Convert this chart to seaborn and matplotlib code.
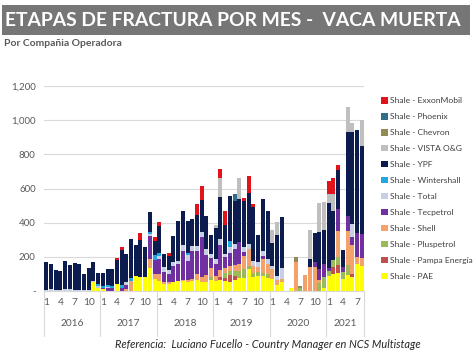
import matplotlib
matplotlib.use('Agg')
import matplotlib.pyplot as plt
import matplotlib.transforms as mtransforms
from matplotlib.patches import Patch, Rectangle
import pandas as pd
import seaborn as sns

# Monthly frac stages by operator, Jan 2016 - Aug 2021
years = [2016, 2017, 2018, 2019, 2020, 2021]
months_in_year = [12, 12, 12, 12, 12, 8]
month_ticks = ['1', '4', '7', '10']

companies = ['Shale - ExxonMobil', 'Shale - Phoenix', 'Shale - Chevron', 'Shale - VISTA O&G',
             'Shale - YPF', 'Shale - Wintershall', 'Shale - Total', 'Shale - Tecpetrol',
             'Shale - Shell', 'Shale - Pluspetrol', 'Shale - Pampa Energía', 'Shale - PAE']
colors = ['#e3131b', '#2f6f8c', '#948a54', '#bfbfbf', '#0c1c4f', '#22a7e0',
          '#c6cfe3', '#7030a0', '#f2a26a', '#9bbb59', '#c0504d', '#ffff00']

exxon = [0, 0, 0, 0, 0, 0, 0, 0, 0, 0, 0, 0,
         0, 0, 0, 10, 15, 0, 0, 0, 40, 0, 0, 20,
         20, 0, 20, 0, 0, 0, 0, 0, 70, 80, 0, 0,
         0, 50, 80, 0, 0, 0, 20, 100, 15, 0, 0, 0,
         0, 0, 0, 0, 0, 0, 0, 0, 0, 0, 0, 0,
         80, 90, 25, 0, 0, 0, 0, 0]
phoenix = [0] * 12 + [0] * 12 + [0] * 12 + \
          [0, 0, 0, 0, 40, 0, 0, 0, 0, 0, 0, 0] + [0] * 12 + [0] * 8
chevron = [0] * 12 + [0] * 12 + [0] * 12 + [0] * 12 + \
          [0, 0, 0, 0, 0, 30, 15, 0, 0, 0, 0, 0] + [0] * 8
vista = [0] * 12 + [0] * 12 + [0] * 12 + \
        [20, 110, 0, 0, 0, 120, 0, 0, 0, 0, 0, 0,
         80, 80, 0, 0, 0, 0, 0, 0, 165, 0, 170, 160,
         50, 100, 0, 0, 149, 55, 0, 153]
ypf = [161, 149, 116, 110, 163, 143, 155, 151, 92, 129, 109, 68,
       74, 92, 97, 143, 205, 168, 229, 180, 219, 175, 120, 84,
       162, 76, 80, 150, 230, 200, 185, 160, 180, 190, 190, 110,
       180, 250, 170, 260, 250, 250, 270, 300, 320, 160, 300, 280,
       130, 240, 300, 0, 0, 0, 0, 0, 50, 170, 220, 200,
       380, 290, 230, 100, 491, 536, 606, 514]
wintershall = [0, 0, 0, 0, 0, 0, 0, 0, 0, 0, 0, 10,
               10, 10, 10, 0, 15, 0, 15, 0, 0, 0, 8, 30,
               15, 0, 0, 0, 0, 0, 15, 0, 0, 0, 0, 0,
               0, 0, 0, 40, 0, 0, 0, 0, 0, 0, 0, 0] + [0] * 12 + [0] * 8
total = [8, 10, 8, 8, 10, 10, 8, 8, 6, 8, 10, 10,
         0, 5, 5, 0, 0, 15, 0, 0, 0, 0, 15, 0,
         15, 30, 25, 25, 20, 30, 35, 30, 30, 30, 35, 25,
         30, 30, 20, 30, 30, 0, 30, 30, 30, 30, 30, 30,
         20, 20, 60, 0, 0, 0, 0, 0, 0, 0, 0, 0,
         0, 0, 0, 0, 0, 78, 0, 0]
tecpetrol = [0] * 12 + \
            [10, 20, 15, 0, 20, 25, 0, 0, 0, 0, 135, 80,
             90, 60, 45, 90, 100, 170, 110, 160, 130, 230, 120, 60,
             70, 150, 60, 80, 90, 130, 20, 0, 0, 0, 20, 0,
             0, 0, 0, 0, 0, 0, 0, 0, 0, 30, 60, 80,
             20, 0, 130, 30, 88, 49, 137, 137]
shell = [0] * 12 + \
        [0, 0, 0, 0, 0, 10, 60, 0, 0, 0, 50, 30,
         40, 10, 10, 5, 0, 10, 10, 15, 40, 30, 40, 50,
         30, 40, 30, 30, 40, 40, 80, 100, 40, 30, 80, 60,
         60, 30, 20, 0, 0, 170, 0, 94, 140, 140, 20, 0,
         0, 0, 150, 0, 196, 167, 40, 49]
pluspetrol = [0] * 12 + [0] * 12 + \
             [0, 0, 0, 0, 0, 0, 0, 0, 0, 0, 0, 20,
              0, 0, 30, 20, 30, 40, 50, 20, 20, 20, 20, 20,
              0, 0, 0, 0, 0, 0, 15, 0, 0, 0, 46, 60,
              25, 40, 50, 40, 59, 0, 0, 0]
pampa = [0] * 12 + [0] * 12 + [0] * 12 + \
        [0, 20, 20, 40, 20, 0, 0, 0, 0, 0, 0, 0] + [0] * 12 + \
        [0, 40, 45, 0, 0, 20, 0, 0]
pae = [0, 0, 0, 0, 0, 0, 0, 0, 0, 0, 50, 20,
       10, 0, 0, 40, 0, 0, 0, 90, 80, 80, 135, 70,
       60, 40, 42, 50, 58, 57, 53, 57, 62, 54, 52, 64,
       58, 62, 57, 55, 65, 79, 77, 126, 84, 90, 87, 77,
       69, 35, 53, 0, 15, 0, 0, 0, 0, 0, 0, 20,
       90, 100, 105, 71, 95, 80, 160, 147]

series = [exxon, phoenix, chevron, vista, ypf, wintershall, total,
          tecpetrol, shell, pluspetrol, pampa, pae]

rows = []
for name, vals in zip(companies, series):
    for i, v in enumerate(vals):
        rows.append({'month': i, 'company': name, 'stages': v})
df = pd.DataFrame(rows)
palette = dict(zip(companies, colors))

sns.set_style('white')
plt.rcParams['font.family'] = ['Lato', 'DejaVu Sans']

fig = plt.figure(figsize=(4.75, 3.56), dpi=100)
ax = fig.add_axes([44 / 475, 65 / 356, 320 / 475, 205 / 356])

# first hue in hue_order ends up on top of the stack
sns.histplot(data=df, x='month', weights='stages', hue='company', hue_order=companies,
             multiple='stack', discrete=True, shrink=0.85, palette=palette,
             linewidth=0, alpha=1, legend=False, ax=ax)

ax.set_xlim(-0.5, 67.5)
ax.set_ylim(0, 1200)
ax.set_xlabel('')
ax.set_ylabel('')
ax.set_xticks([])
ax.set_yticks([0, 200, 400, 600, 800, 1000, 1200])
ax.set_yticklabels(['-', '200', '400', '600', '800', '1,000', '1,200'])
ax.tick_params(axis='y', length=0, pad=6, labelsize=7, labelcolor='#595959')
ax.yaxis.grid(True, color='#d9d9d9', linewidth=0.8)
ax.set_axisbelow(True)
for s in ['left', 'right', 'top']:
    ax.spines[s].set_visible(False)
ax.spines['bottom'].set_color('#d9d9d9')

# two-level month / year axis
trans = mtransforms.blended_transform_factory(ax.transData, ax.transAxes)
start = 0
bounds = [-0.5]
for yr, n in zip(years, months_in_year):
    for k, lab in enumerate(month_ticks):
        idx = k * 3
        if idx < n:
            ax.text(start + idx, -0.058, lab, transform=trans, ha='center', va='center',
                    fontsize=7.3, color='#595959')
    ax.text(start + (n - 1) / 2, -0.16, str(yr), transform=trans, ha='center',
            va='center', fontsize=7.3, color='#595959')
    start += n
    bounds.append(start - 0.5)
for b in bounds:
    ax.plot([b, b], [0, -0.22], transform=trans, color='#d9d9d9', lw=0.8, clip_on=False)

# legend
handles = [Patch(facecolor=c, edgecolor='none') for c in colors]
fig.legend(handles, companies, loc='upper left', bbox_to_anchor=(378 / 475, 1 - 94 / 356),
           frameon=False, fontsize=6.1, labelcolor='#404040', handlelength=0.75,
           handleheight=0.75, handletextpad=0.3, labelspacing=1.05, borderaxespad=0)

# title bar
fig.patches.append(Rectangle((2 / 475, 1 - 35 / 356), 468 / 475, 30 / 356,
                             transform=fig.transFigure, facecolor='#767676',
                             edgecolor='none', zorder=0))
fig.text(5 / 475, 1 - 20 / 356, 'ETAPAS DE FRACTURA POR MES -  VACA MUERTA',
         color='white', fontsize=13.9, fontweight='bold', ha='left', va='center')
fig.text(4 / 475, 1 - 44 / 356, 'Por Compañia Operadora', color='#595959',
         fontsize=7.5, fontweight='bold', ha='left', va='center')
fig.text(268 / 475, 1 - 345 / 356,
         'Referencia:  Luciano Fucello - Country Manager en NCS Multistage',
         color='#262626', fontsize=7.9, style='italic', ha='center', va='center')

fig.savefig('out.png', dpi=100)
